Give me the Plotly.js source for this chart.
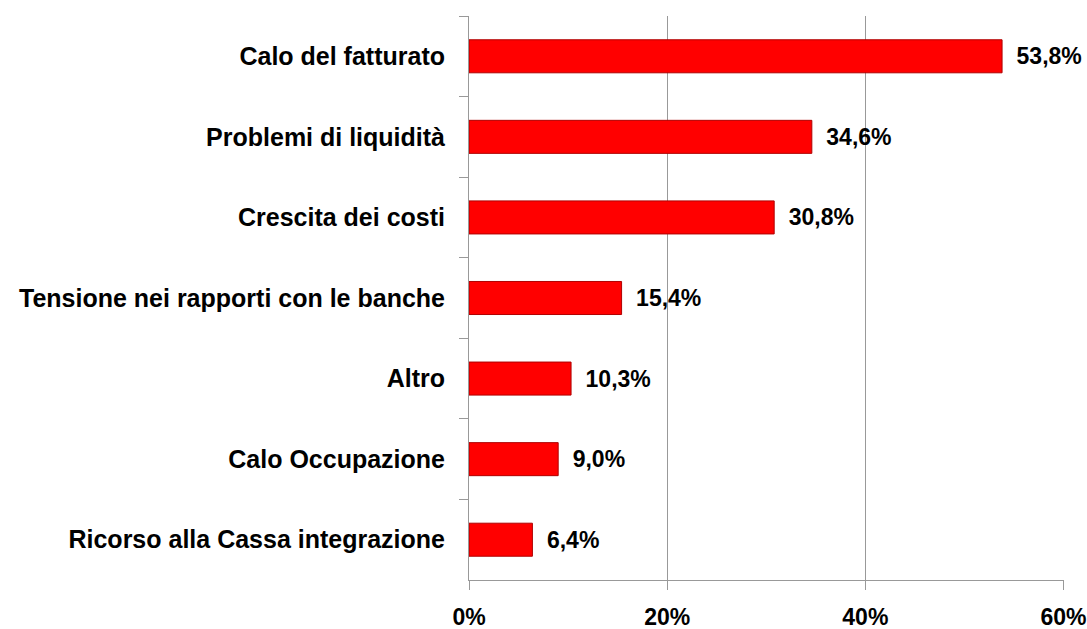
<!DOCTYPE html>
<html>
<head>
<meta charset="utf-8">
<script src="https://cdn.plot.ly/plotly-3.0.1.min.js"></script>
<style>html,body{margin:0;padding:0;background:#fff;}#chart{width:1087px;height:629px;}</style>
</head>
<body>
<div id="chart"></div>
<script>
const categories = [
  "Calo del fatturato",
  "Problemi di liquidità",
  "Crescita dei costi",
  "Tensione nei rapporti con le banche",
  "Altro",
  "Calo Occupazione",
  "Ricorso alla Cassa integrazione"
];
const values = [0.538, 0.346, 0.308, 0.154, 0.103, 0.090, 0.064];
const tickValues = [0, 0.2, 0.4, 0.6];
const tickLabels = ["0%", "20%", "40%", "60%"];

const font = {family: "Liberation Sans, Arial, sans-serif", size: 23, color: "#000", weight: 700};

const trace = {
  type: "bar",
  orientation: "h",
  x: values,
  y: categories,
  marker: {color: "#ff0000", line: {color: "#b00000", width: 1}},
  texttemplate: "\u2002%{x:.1%}",
  textposition: "outside",
  constraintext: "none",
  cliponaxis: false,
  textfont: font,
  hoverinfo: "none"
};

const layout = {
  width: 1087, height: 629,
  margin: {l: 469, r: 23, t: 16, b: 49},
  paper_bgcolor: "#fff", plot_bgcolor: "#fff",
  separators: ",.",
  bargap: 0.59,
  showlegend: false,
  font: font,
  xaxis: {
    range: [0, 0.6005],
    tickvals: tickValues,
    ticktext: tickLabels,
    showgrid: true, gridcolor: "#999", gridwidth: 1,
    zeroline: false,
    showline: true, linecolor: "#999", linewidth: 1,
    ticks: "outside", ticklen: 9, tickcolor: "#999",
    tickfont: font,
    ticklabelstandoff: 7,
    fixedrange: true
  },
  yaxis: {
    autorange: "reversed",
    showline: true, linecolor: "#999", linewidth: 1,
    ticks: "outside", ticklen: 9, tickcolor: "#999",
    tickson: "boundaries",
    showgrid: false, zeroline: false,
    tickfont: Object.assign({}, font, {size: 25}),
    ticklabelstandoff: 18,
    fixedrange: true
  }
};

Plotly.newPlot("chart", [trace], layout, {staticPlot: true, displayModeBar: false});
</script>
</body>
</html>
